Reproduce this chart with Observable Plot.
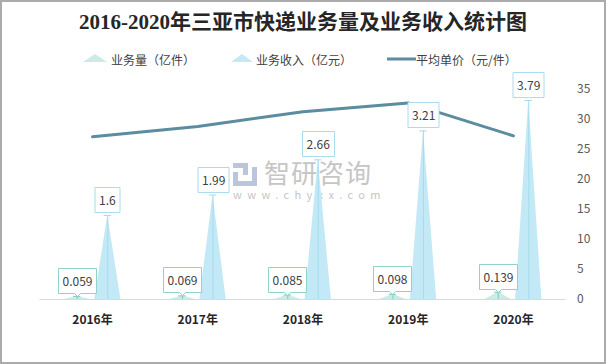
<!DOCTYPE html>
<html>
<head>
<meta charset="utf-8">
<script src="https://cdn.jsdelivr.net/npm/d3@7"></script>
<script src="https://cdn.jsdelivr.net/npm/@observablehq/plot@0.6"></script>
<style>
  html, body { margin: 0; padding: 0; background: #fff; }
  #wrap { position: relative; width: 606px; height: 364px; overflow: hidden; background: #fff;
          font-family: "Noto Sans CJK SC", "Noto Sans", sans-serif; }
  #frame { position: absolute; left: 0; top: 0; width: 606px; height: 364px; box-sizing: border-box;
           border: 2px solid #ababab; pointer-events: none; z-index: 5; }
  #title { position: absolute; left: 0; top: 8px; width: 606px; height: 28px; line-height: 28px; text-align: center;
           font-family: "Liberation Serif", "Noto Sans CJK SC", serif; font-weight: bold; font-size: 21px; color: #262626; }
  .lg { position: absolute; top: 51px; height: 18px; line-height: 18px; font-size: 12px; color: #404040; white-space: nowrap; }
  .ic { position: absolute; }
  #wm { position: absolute; left: 233px; top: 160px; width: 145px; height: 45px; z-index: 0; }
  #chart { position: absolute; left: 0; top: 75px; z-index: 1; }
</style>
</head>
<body>
<div id="wrap">
  <div id="title">2016-2020年三亚市快递业务量及业务收入统计图</div>
  <svg class="ic" style="left:83px;top:53px" width="25" height="10"><polygon points="0,9 12,1 24,9" fill="#cdeae7"/></svg>
  <div class="lg" style="left:111px">业务量（亿件）</div>
  <svg class="ic" style="left:231px;top:53px" width="24" height="10"><polygon points="0,9 11,1 22,9" fill="#c3e8f6"/></svg>
  <div class="lg" style="left:256px">业务收入（亿元）</div>
  <svg class="ic" style="left:387px;top:57px" width="30" height="5"><rect x="0" y="0.5" width="29" height="3" fill="#5b8c9f"/></svg>
  <div class="lg" style="left:416px">平均单价（元/件）</div>
  <div id="wm">
    <svg style="position:absolute;left:0;top:3px" width="25" height="23">
      <rect x="0" y="0" width="14" height="5" fill="#bcc6da"/>
      <rect x="10" y="0" width="5" height="12" fill="#bcc6da"/>
      <rect x="0" y="9" width="5" height="14" fill="#bcc6da"/>
      <rect x="0" y="18" width="24" height="5" fill="#bcc6da"/>
      <rect x="19" y="4" width="5" height="15" fill="#bcc6da"/>
    </svg>
    <div style="position:absolute;left:31px;top:-4px;font-size:26px;line-height:32px;color:#c6c6c6;letter-spacing:1px">智研咨询</div>
    <div style="position:absolute;left:0;top:27px;font-size:11px;line-height:14px;color:#c6c6c6;letter-spacing:5.4px">www.chyxx.com</div>
  </div>
  <div id="chart"></div>
  <div id="frame"></div>
</div>
<script>
const years = ["2016年", "2017年", "2018年", "2019年", "2020年"];
const volume = [0.059, 0.069, 0.085, 0.098, 0.139];     // 业务量（亿件）
const revenue = [1.6, 1.99, 2.66, 3.21, 3.79];          // 业务收入（亿元）
const price = [27.12, 28.84, 31.29, 32.76, 27.27];      // 平均单价（元/件）
const rightTicks = [0, 5, 10, 15, 20, 25, 30, 35];

// hidden left axis 0–4 maps onto right axis 0–35
const k = 35 / 4;
const offVol = -0.145, offRev = 0.145, hw = 0.125, cap = 0.035;

const tri = (vals, off) => vals.flatMap((v, i) => [
  {x: i + off - hw, y: 0, z: i},
  {x: i + off, y: v * k, z: i},
  {x: i + off + hw, y: 0, z: i}
]);
const pts = (vals, off) => vals.map((v, i) => ({x: i + off, y: v * k, label: String(v)}));
const volPts = pts(volume, offVol);
const revPts = pts(revenue, offRev);
const linePts = price.map((p, i) => ({x: i, y: p}));

const chart = Plot.plot({
  width: 606,
  height: 289,
  marginLeft: 39.4,
  marginRight: 40.4,
  marginTop: 14,
  marginBottom: 65,
  x: {domain: [-0.5, 4.5], label: null},
  y: {domain: [0, 35], label: null},
  style: {fontFamily: "'Noto Sans CJK SC', 'Noto Sans', sans-serif", fontSize: "12px", color: "#404040", background: "transparent", overflow: "visible"},
  marks: [
    Plot.ruleY([0], {stroke: "#d9d9d9", strokeWidth: 1}),
    Plot.areaY(tri(volume, offVol), {x: "x", y: "y", z: "z", fill: "#cdeae7", curve: "linear"}),
    Plot.areaY(tri(revenue, offRev), {x: "x", y: "y", z: "z", fill: "#c3e8f6", curve: "linear"}),
    Plot.ruleX(volPts, {x: "x", y1: 0, y2: "y", stroke: "#7fcbbf", strokeWidth: 1}),
    Plot.ruleY(volPts, {y: "y", x1: d => d.x - cap, x2: d => d.x + cap, stroke: "#7fcbbf", strokeWidth: 1}),
    Plot.ruleX(revPts, {x: "x", y1: 0, y2: "y", stroke: "#a5dcef", strokeWidth: 1}),
    Plot.ruleY(revPts, {y: "y", x1: d => d.x - cap, x2: d => d.x + cap, stroke: "#a5dcef", strokeWidth: 1}),
    Plot.line(linePts, {x: "x", y: "y", stroke: "#5b8c9f", strokeWidth: 3}),
    Plot.tip(volPts, {x: "x", y: "y", title: "label", anchor: "bottom", fill: "white", stroke: "#8fd3c9",
      pointerSize: 6, textPadding: 4, fontSize: 12, pathFilter: "none"}),
    Plot.tip(revPts, {x: "x", y: "y", title: "label", anchor: "bottom", fill: "white", stroke: "#a8dcee",
      pointerSize: 0, textPadding: 4, fontSize: 12, pathFilter: "none", dy: -3}),
    Plot.axisX([0, 1, 2, 3, 4], {tickFormat: i => years[i], tickSize: 0, tickPadding: 16, fontWeight: "bold", fontSize: 12, fill: "#262626", label: null}),
    Plot.axisY(rightTicks, {anchor: "right", tickSize: 0, tickPadding: 11, fill: "#595959", fontSize: 12, label: null})
  ]
});
document.getElementById("chart").appendChild(chart);
</script>
</body>
</html>
